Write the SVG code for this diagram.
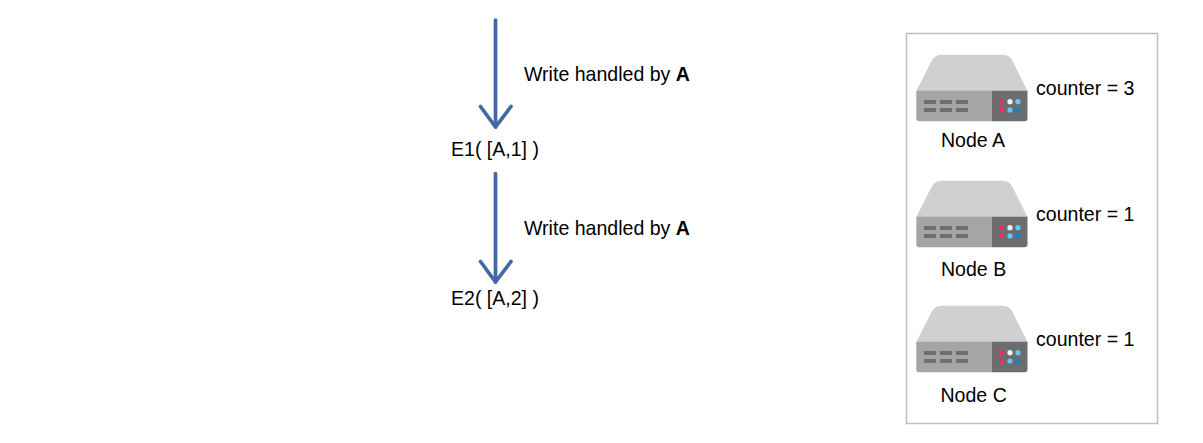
<svg xmlns="http://www.w3.org/2000/svg" width="1203" height="443" viewBox="0 0 1203 443">
<style>
text{font-family:"Liberation Sans",Arial,sans-serif;font-size:19.56px;fill:#000}
.b{font-weight:bold}
.c{fill:none;stroke:#4169a8;stroke-width:3.7;stroke-linecap:round;stroke-linejoin:round}
.slot{fill:#6f6f70}
</style>
<defs>
<g id="server">
<path d="M916.3 91 L931.5 61 Q935 54.7 941 54.7 L1003 54.7 Q1009.5 54.7 1012.5 61 L1027.5 91 Z" fill="#cfd0d2"/>
<path d="M916.3 90.7 H992 V121.3 H919 Q916.3 121.3 916.3 118.5 Z" fill="#a5a5a6"/>
<path d="M992 90.7 H1027.5 V118.5 Q1027.5 121.3 1024.7 121.3 H992 Z" fill="#6d6d6f"/>
<rect class="slot" x="924" y="100" width="12" height="4"/>
<rect class="slot" x="940" y="100" width="12" height="4"/>
<rect class="slot" x="956" y="100" width="12" height="4"/>
<rect class="slot" x="924" y="108" width="12" height="4"/>
<rect class="slot" x="940" y="108" width="12" height="4"/>
<rect class="slot" x="956" y="108" width="12" height="4"/>
<circle cx="1001.7" cy="101.7" r="2.6" fill="#ee2a6f"/>
<circle cx="1010" cy="101.7" r="2.6" fill="#f1f1f2"/>
<circle cx="1018" cy="101.7" r="2.6" fill="#5ecbf0"/>
<circle cx="1001.7" cy="110" r="2.6" fill="#ee2a6f"/>
<circle cx="1010" cy="110" r="2.6" fill="#5ecbf0"/>
<circle cx="1018" cy="110" r="2.6" fill="#0a86c9"/>
</g>
</defs>
<g id="connectors">
<path class="c" d="M495.5 20 V127"/>
<path class="c" d="M480.5 106.5 L495.5 127 L511 106.5"/>
<path class="c" d="M495.5 173.5 V282"/>
<path class="c" d="M480.5 261.5 L495.5 282 L511 261.5"/>
</g>
<g id="label-1"><text x="524" y="81">Write handled by <tspan class="b">A</tspan></text></g>
<g id="label-2"><text x="524" y="235">Write handled by <tspan class="b">A</tspan></text></g>
<g id="event-e1"><text x="451" y="156">E1( [A,1] )</text></g>
<g id="event-e2"><text x="451" y="305">E2( [A,2] )</text></g>
<g id="cluster"><rect x="906.5" y="33.500" width="251" height="390" fill="#fff" stroke="#bfbfbf" stroke-width="1.5"/></g>
<g id="node-a">
<use href="#server"/>
<text x="941" y="147">Node A</text>
<text x="1036" y="95">counter = 3</text>
</g>
<g id="node-b">
<use href="#server" y="126"/>
<text x="941" y="276">Node B</text>
<text x="1036" y="221">counter = 1</text>
</g>
<g id="node-c">
<use href="#server" y="251"/>
<text x="940.5" y="402">Node C</text>
<text x="1036" y="346">counter = 1</text>
</g>
</svg>
